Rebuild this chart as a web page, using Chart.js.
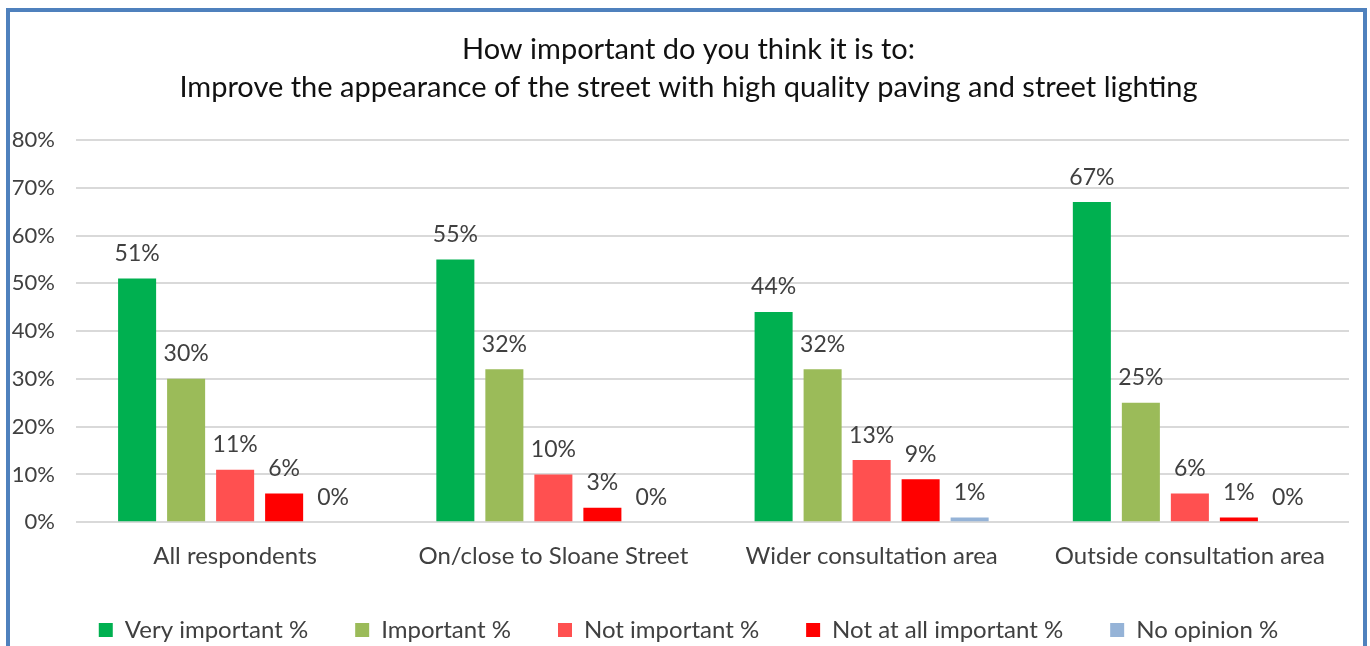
<!DOCTYPE html>
<html>
<head>
<meta charset="utf-8">
<script src="https://cdn.jsdelivr.net/npm/chart.js@4"></script>
<style>
  html, body { margin: 0; padding: 0; background: #fff; overflow: hidden; }
  #wrap { position: relative; width: 1370px; height: 646px; overflow: hidden; }
  #frame {
    position: absolute; left: 6px; top: 8px; width: 1353px; height: 700px;
    border: 4px solid #4F81BD; pointer-events: none;
  }
</style>
</head>
<body>
<div id="wrap">
  <canvas id="surveyChart" width="1370" height="656"></canvas>
  <div id="frame"></div>
</div>
<script>
const titleLines = [
    "How important do you think it is to:",
    "Improve the appearance of the street with high quality paving and street lighting"
];
const categories = ["All respondents", "On/close to Sloane Street", "Wider consultation area", "Outside consultation area"];
const seriesNames = ["Very important %", "Important %", "Not important %", "Not at all important %", "No opinion %"];
const seriesColors = ["#00B050", "#9BBB59", "#FF5050", "#FF0000", "#95B3D7"];
const veryImportant = [51, 55, 44, 67];
const important = [30, 32, 32, 25];
const notImportant = [11, 10, 13, 6];
const notAtAllImportant = [6, 3, 9, 1];
const noOpinion = [0, 0, 1, 0];
const yTicks = [0, 10, 20, 30, 40, 50, 60, 70, 80];

const seriesValues = [veryImportant, important, notImportant, notAtAllImportant, noOpinion];

// value labels above each bar
const barLabels = {
    id: "barLabels",
    afterDatasetsDraw(chart) {
        const ctx = chart.ctx;
        ctx.save();
        ctx.font = "23px Lato";
        ctx.fillStyle = "#404040";
        ctx.textAlign = "center";
        ctx.textBaseline = "middle";
        chart.data.datasets.forEach((ds, i) => {
            chart.getDatasetMeta(i).data.forEach((bar, j) => {
                ctx.fillText(ds.data[j] + "%", bar.x, bar.y - 25);
            });
        });
        ctx.restore();
    }
};

// y tick labels, drawn left of the narrow axis box so they aren't clipped
const yLabels = {
    id: "yLabels",
    afterDraw(chart) {
        const ctx = chart.ctx;
        const y = chart.scales.y;
        ctx.save();
        ctx.font = "22px Lato";
        ctx.fillStyle = "#404040";
        ctx.textAlign = "right";
        ctx.textBaseline = "middle";
        y.ticks.forEach(t => {
            ctx.fillText(t.value + "%", chart.chartArea.left - 21, y.getPixelForValue(t.value));
        });
        ctx.restore();
    }
};

const ctx = document.getElementById("surveyChart").getContext("2d");

const surveyChart = new Chart(ctx, {
    type: "bar",
    data: {
        labels: categories,
        datasets: seriesNames.map((name, i) => ({
            label: name,
            data: seriesValues[i],
            backgroundColor: seriesColors[i],
            borderWidth: 0,
            categoryPercentage: 0.77,
            barPercentage: 0.776
        }))
    },
    options: {
        responsive: false,
        animation: false,
        layout: { padding: { left: 28, right: 21, top: 0, bottom: 4 } },
        plugins: {
            title: {
                display: true,
                text: titleLines,
                color: "#111",
                font: { family: "Lato", size: 29, weight: "normal", lineHeight: 1.31 },
                padding: { top: 31, bottom: 33 }
            },
            legend: {
                position: "bottom",
                labels: {
                    color: "#404040",
                    font: { family: "Lato", size: 24 },
                    boxWidth: 14,
                    boxHeight: 14,
                    padding: 47
                }
            },
            tooltip: { enabled: false }
        },
        scales: {
            x: {
                grid: { display: false },
                border: { display: false },
                ticks: { color: "#404040", font: { family: "Lato", size: 24 }, padding: 12 },
                afterFit: axis => { axis.height -= 12; }
            },
            y: {
                min: 0,
                max: 80,
                afterBuildTicks: axis => { axis.ticks = yTicks.map(v => ({ value: v })); },
                afterFit: axis => { axis.width = 48; },
                grid: { color: "#D9D9D9", lineWidth: 2, drawTicks: false },
                border: { display: false },
                ticks: { display: false }
            }
        }
    },
    plugins: [barLabels, yLabels]
});
</script>
</body>
</html>
